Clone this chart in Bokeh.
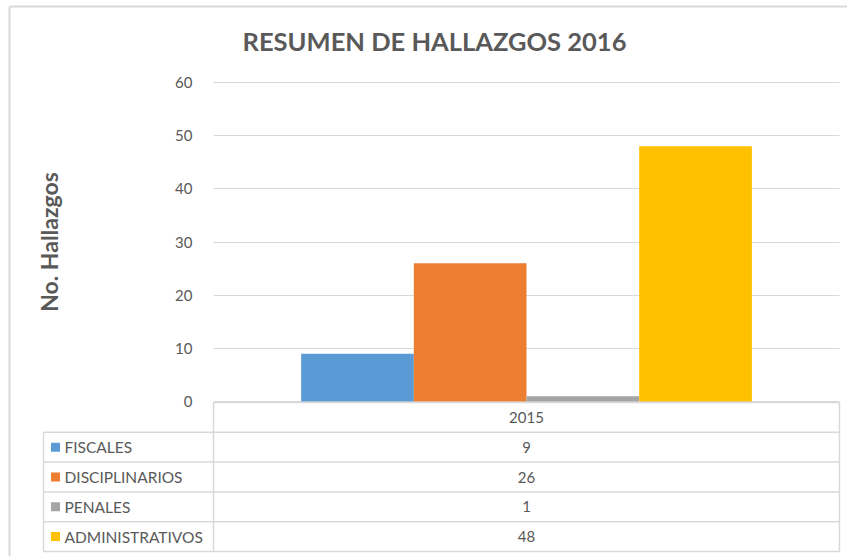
from bokeh.plotting import figure
from bokeh.models import Range1d, ColumnDataSource, FixedTicker, LinearAxis, Grid
from bokeh.embed import file_html
from bokeh.resources import INLINE

# ---------------- data ----------------
year = "2015"
categories = ["FISCALES", "DISCIPLINARIOS", "PENALES", "ADMINISTRATIVOS"]
values = [9, 26, 1, 48]
colors = ["#5B9BD5", "#ED7D31", "#A5A5A5", "#FFC000"]
y_ticks = [0, 10, 20, 30, 40, 50, 60]
title_text = "RESUMEN DE HALLAZGOS 2016"
y_label = "No. Hallazgos"

# ---------------- layout constants (pixels) ----------------
W, H = 847, 556
PLOT_L, PLOT_R = 213, 839      # plot area left / right
PLOT_T, PLOT_B = 82, 401       # pixel rows of 60 and 0
FONT = "Lato"
TXT = "#595959"
LINE = "#D9D9D9"

# main scales: x in "category units" (0..1 = the 2015 category), y in values
cat_px = PLOT_R - PLOT_L
x0 = -PLOT_L / cat_px
x1 = (W - PLOT_L) / cat_px
px_per_val = (PLOT_B - PLOT_T) / y_ticks[-1]
y0 = -(H - PLOT_B) / px_per_val
y1 = y_ticks[-1] + PLOT_T / px_per_val

p = figure(width=W, height=H, x_range=Range1d(x0, x1), y_range=Range1d(y0, y1),
           output_backend="svg", toolbar_location=None,
           x_axis_location=None, y_axis_location=None,
           min_border=0, outline_line_color=None)
p.grid.visible = False
# pixel-space ranges for the table / frame decoration
p.extra_x_ranges = {"px": Range1d(0, W)}
p.extra_y_ranges = {"py": Range1d(H, 0)}

# gridlines
p.add_layout(Grid(dimension=1, ticker=FixedTicker(ticks=y_ticks), cross_bounds=(0, 1),
                  grid_line_color=LINE, grid_line_width=1))

# bars
n = len(categories)
bar_w = 0.18
centers = [0.5 + (i - (n - 1) / 2) * bar_w for i in range(n)]
bsrc = ColumnDataSource(dict(x=centers, top=values, color=colors, cat=categories))
p.vbar(x="x", top="top", bottom=0, width=bar_w, source=bsrc,
       fill_color="color", line_color=None)

# y axis fixed at the plot-area left edge
ax = LinearAxis(fixed_location=0, ticker=FixedTicker(ticks=y_ticks),
                bounds=(y_ticks[0], y_ticks[-1]))
ax.axis_line_color = None
ax.major_tick_line_color = None
ax.minor_tick_line_color = None
ax.major_label_standoff = 15
ax.major_label_text_font = FONT
ax.major_label_text_font_size = "15px"
ax.major_label_text_color = TXT
ax.axis_label = y_label
ax.axis_label_text_font = FONT
ax.axis_label_text_font_size = "23px"
ax.axis_label_text_font_style = "bold"
ax.axis_label_text_color = TXT
ax.axis_label_standoff = 109
p.add_layout(ax, "left")

# title
p.text(x=[434], y=[40], text=[title_text], x_range_name="px", y_range_name="py",
       text_align="center", text_baseline="middle",
       text_font={"value": FONT}, text_font_size="25.5px", text_font_style="bold",
       text_color=TXT)

# outer chart border (top + left)
p.segment(x0=[9, 9], y0=[6, 6], x1=[W + 5, 9], y1=[6, H + 5],
          x_range_name="px", y_range_name="py", line_color=LINE, line_width=2)

# ---------------- data table ----------------
TOP = PLOT_B + 1
RH = 29.8
LEG_L = 43
rows = n + 1
bottom = TOP + rows * RH

hx0 = [PLOT_L] + [LEG_L] * rows
hx1 = [PLOT_R] * (rows + 1)
hy = [TOP + k * RH for k in range(rows + 1)]
p.segment(x0=hx0, y0=hy, x1=hx1, y1=hy, x_range_name="px", y_range_name="py",
          line_color=LINE, line_width=1.5)
p.segment(x0=[LEG_L, PLOT_L, PLOT_R], y0=[TOP + RH, TOP, TOP],
          x1=[LEG_L, PLOT_L, PLOT_R], y1=[bottom, bottom, bottom],
          x_range_name="px", y_range_name="py", line_color=LINE, line_width=1.5)

cx = (PLOT_L + PLOT_R) / 2
p.text(x=[cx], y=[TOP + RH / 2], text=[year], x_range_name="px", y_range_name="py",
       text_align="center", text_baseline="middle",
       text_font={"value": FONT}, text_font_size="15px", text_color=TXT)
row_y = [TOP + (i + 1.5) * RH for i in range(n)]
tsrc = ColumnDataSource(dict(cx=[cx] * n, y=row_y, val=[str(v) for v in values],
                             cat=categories, color=colors,
                             sx=[LEG_L + 12] * n, lx=[LEG_L + 21] * n))
p.text(x="cx", y="y", text="val", source=tsrc, x_range_name="px", y_range_name="py",
       text_align="center", text_baseline="middle",
       text_font={"value": FONT}, text_font_size="15px", text_color=TXT)
p.text(x="lx", y="y", text="cat", source=tsrc, x_range_name="px", y_range_name="py",
       text_align="left", text_baseline="middle",
       text_font={"value": FONT}, text_font_size="15.5px", text_color=TXT)
p.scatter(x="sx", y="y", marker="square", size=9, source=tsrc,
          x_range_name="px", y_range_name="py", fill_color="color", line_color=None)

open("out.html", "w").write(file_html(p, INLINE))
